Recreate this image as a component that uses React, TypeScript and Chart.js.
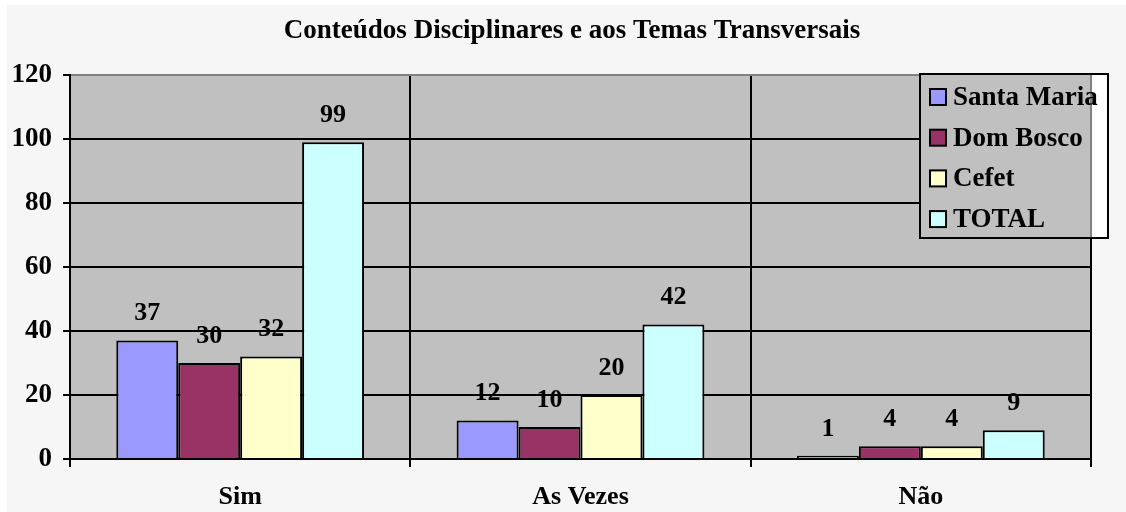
import React, { useEffect, useRef } from "react";
import { Chart, registerables } from "chart.js";

Chart.register(...registerables);

const titleText = "Conteúdos Disciplinares e aos Temas Transversais";
const categories = ["Sim", "As Vezes", "Não"];
const seriesNames = ["Santa Maria", "Dom Bosco", "Cefet", "TOTAL"];
const santaMaria = [37, 12, 1];
const domBosco = [30, 10, 4];
const cefet = [32, 20, 4];
const total = [99, 42, 9];
const seriesColors = ["#9999FF", "#993366", "#FFFFCC", "#CCFFFF"];
const yMin = 0;
const yMax = 120;
const yStep = 20;

const FONT = "'Liberation Serif', 'Times New Roman', serif";

const bgPlugin = {
  id: "bgPlugin",
  beforeDraw(chart: any) {
    const { ctx, chartArea } = chart;
    ctx.save();
    ctx.fillStyle = "#FFFFFF";
    ctx.fillRect(0, 0, chart.width, chart.height);
    ctx.fillStyle = "#F6F6F6";
    ctx.fillRect(7, 5, chart.width - 7, chart.height - 5);
    ctx.fillStyle = "#C0C0C0";
    ctx.fillRect(chartArea.left, chartArea.top, chartArea.right - chartArea.left, chartArea.bottom - chartArea.top);
    ctx.restore();
  },
};

const titlePlugin = {
  id: "titlePlugin",
  afterDraw(chart: any) {
    const { ctx } = chart;
    ctx.save();
    ctx.font = `bold 27px ${FONT}`;
    ctx.fillStyle = "#000";
    ctx.textAlign = "center";
    ctx.textBaseline = "middle";
    ctx.fillText(titleText, 572, 31);
    ctx.restore();
  },
};

const labelPlugin = {
  id: "labelPlugin",
  afterDatasetsDraw(chart: any) {
    const { ctx } = chart;
    ctx.save();
    ctx.font = `bold 26px ${FONT}`;
    ctx.fillStyle = "#000";
    ctx.textAlign = "center";
    ctx.textBaseline = "middle";
    chart.data.datasets.forEach((ds: any, i: number) => {
      const meta = chart.getDatasetMeta(i);
      meta.data.forEach((bar: any, j: number) => {
        ctx.fillText(String(ds.data[j]), bar.x, bar.y - 27);
      });
    });
    ctx.restore();
  },
};

const legendPlugin = {
  id: "legendPlugin",
  afterDraw(chart: any) {
    const { ctx, chartArea } = chart;
    const L = 920, T = 74, R = 1108, B = 238;
    ctx.save();
    ctx.fillStyle = "#FFFFFF";
    ctx.fillRect(L, T, R - L, B - T);
    ctx.fillStyle = "#C0C0C0";
    ctx.fillRect(L, T, chartArea.right - L, B - T);
    ctx.strokeStyle = "#808080";
    ctx.lineWidth = 2;
    ctx.beginPath();
    ctx.moveTo(chartArea.right, T);
    ctx.lineTo(chartArea.right, B);
    ctx.stroke();
    ctx.strokeStyle = "#000";
    ctx.lineWidth = 2;
    ctx.strokeRect(L, T, R - L, B - T);
    ctx.font = `bold 27px ${FONT}`;
    ctx.textAlign = "left";
    ctx.textBaseline = "middle";
    chart.data.datasets.forEach((ds: any, i: number) => {
      const cy = 97 + i * 40.7;
      ctx.fillStyle = ds.backgroundColor;
      ctx.fillRect(930, cy - 8, 16, 16);
      ctx.strokeStyle = "#000";
      ctx.lineWidth = 2;
      ctx.strokeRect(930, cy - 8, 16, 16);
      ctx.fillStyle = "#000";
      ctx.fillText(ds.label, 953, cy + 1);
    });
    ctx.restore();
  },
};

export default function App() {
  const ref = useRef<HTMLCanvasElement | null>(null);
  useEffect(() => {
    if (!ref.current) return;
    const seriesValues = [santaMaria, domBosco, cefet, total];
    const chart = new Chart(ref.current, {
      type: "bar",
      data: {
        labels: categories,
        datasets: seriesNames.map((name, i) => ({
          label: name,
          data: seriesValues[i],
          backgroundColor: seriesColors[i],
          borderColor: "#000",
          borderWidth: 2,
          barPercentage: 1,
          categoryPercentage: 0.728,
        })),
      },
      options: {
        responsive: false,
        animation: false,
        devicePixelRatio: 1,
        layout: { padding: { left: 0, top: 75, right: 35, bottom: 0 } },
        plugins: {
          legend: { display: false },
          title: { display: false },
          tooltip: { enabled: false },
        },
        scales: {
          x: {
            offset: true,
            afterFit(scale: any) {
              scale.height = 53;
            },
            grid: {
              offset: true,
              color: (c: any) => (c.index === 3 ? "#808080" : "#000"),
              tickColor: "#000",
              lineWidth: 2,
              tickLength: 8,
            },
            border: { display: true, color: "#000", width: 2 },
            ticks: {
              color: "#000",
              padding: 15,
              font: { family: FONT, size: 26, weight: "bold" },
            },
          },
          y: {
            min: yMin,
            max: yMax,
            afterFit(scale: any) {
              scale.width = 70;
            },
            grid: {
              color: (c: any) => (c.tick && c.tick.value === yMax ? "#808080" : "#000"),
              tickColor: "#000",
              lineWidth: 2,
              tickLength: 7,
            },
            border: { display: true, color: "#000", width: 2 },
            ticks: {
              stepSize: yStep,
              color: "#000",
              padding: 11,
              font: { family: FONT, size: 27, weight: "bold" },
            },
          },
        },
      },
      plugins: [bgPlugin, labelPlugin, legendPlugin, titlePlugin],
    } as any);
    return () => chart.destroy();
  }, []);
  return (
    <div style={{ position: "absolute", left: 0, top: 0, width: 1126, height: 512 }}>
      <canvas ref={ref} width={1126} height={512} style={{ width: 1126, height: 512, display: "block" }} />
    </div>
  );
}
